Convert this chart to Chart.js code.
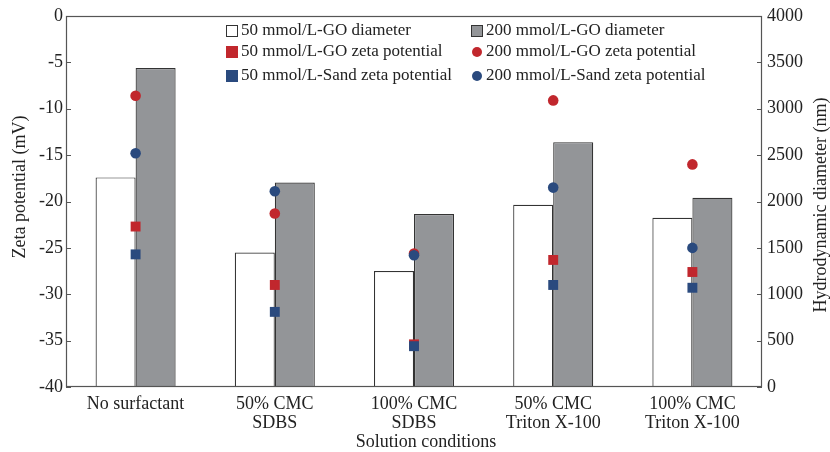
<!DOCTYPE html>
<html>
<head>
<meta charset="utf-8">
<script src="https://cdn.jsdelivr.net/npm/chart.js@4"></script>
<style>
  html, body { margin: 0; padding: 0; background: #fff; }
  #wrap { width: 830px; height: 452px; }
</style>
</head>
<body>
<div id="wrap"><canvas id="chart"></canvas></div>
<script>
// datos
const categories = [['No surfactant'], ['50% CMC', 'SDBS'], ['100% CMC', 'SDBS'], ['50% CMC', 'Triton X-100'], ['100% CMC', 'Triton X-100']];
const diam50 = [2260, 1450, 1250, 1965, 1825];
const diam200 = [3440, 2205, 1865, 2640, 2040];
const zetaGO50 = [-22.7, -29.0, -35.4, -26.3, -27.6];
const zetaSand50 = [-25.7, -31.9, -35.6, -29.0, -29.3];
const zetaGO200 = [-8.6, -21.3, -25.6, -9.1, -16.0];
const zetaSand200 = [-14.8, -18.9, -25.8, -18.5, -25.0];
const zetaTicks = [0, -5, -10, -15, -20, -25, -30, -35, -40];
const diamTicks = [0, 500, 1000, 1500, 2000, 2500, 3000, 3500, 4000];

const RED = '#c1272d';
const BLUE = '#2a4a7e';
const GRAY = '#939598';
const LINE = '#333333';
const AXIS = '#555555';
const TEXT = '#222222';
const FONT = "'Liberation Serif', 'Times New Roman', serif";

// leyenda en dos columnas dibujada a mano
const legendPlugin = {
  id: 'twoColLegend',
  afterDraw(chart) {
    const c = chart.ctx;
    c.save();
    c.font = '17px ' + FONT;
    c.textBaseline = 'middle';
    const rows = [31, 52, 76];
    const col1 = [
      ['50 mmol/L-GO diameter', 'box', '#fff'],
      ['50 mmol/L-GO zeta potential', 'sq', RED],
      ['50 mmol/L-Sand zeta potential', 'sq', BLUE]
    ];
    const col2 = [
      ['200 mmol/L-GO diameter', 'box', GRAY],
      ['200 mmol/L-GO zeta potential', 'dot', RED],
      ['200 mmol/L-Sand zeta potential', 'dot', BLUE]
    ];
    const drawCol = (items, mx, tx) => {
      items.forEach((it, i) => {
        const y = rows[i];
        if (it[1] === 'box') {
          c.fillStyle = it[2];
          c.fillRect(mx - 6, y - 6, 12, 12);
          c.strokeStyle = LINE;
          c.lineWidth = 1;
          c.strokeRect(mx - 5.5, y - 5.5, 11, 11);
        } else if (it[1] === 'sq') {
          c.fillStyle = it[2];
          c.fillRect(mx - 6, y - 6, 12, 12);
        } else {
          c.fillStyle = it[2];
          c.beginPath();
          c.arc(mx, y, 5, 0, Math.PI * 2);
          c.fill();
        }
        c.fillStyle = TEXT;
        c.fillText(it[0], tx, y);
      });
    };
    drawCol(col1, 232, 241);
    drawCol(col2, 477, 486);
    c.restore();
  }
};

// marco, marcas hacia dentro y titulos de ejes
const framePlugin = {
  id: 'frame',
  afterDatasetsDraw(chart) {
    const a = chart.chartArea;
    const c = chart.ctx;
    const y = chart.scales.y;
    const y2 = chart.scales.y2;
    c.save();
    c.strokeStyle = AXIS;
    c.lineWidth = 1.2;
    c.strokeRect(a.left + 0.5, a.top + 0.5, a.right - a.left - 1, a.bottom - a.top - 1);
    c.beginPath();
    zetaTicks.forEach(v => {
      const py = Math.round(y.getPixelForValue(v)) + 0.5;
      c.moveTo(a.left, py);
      c.lineTo(a.left + 5, py);
    });
    diamTicks.forEach(v => {
      const py = Math.round(y2.getPixelForValue(v)) + 0.5;
      c.moveTo(a.right, py);
      c.lineTo(a.right - 5, py);
    });
    c.stroke();

    c.fillStyle = TEXT;
    c.font = '18px ' + FONT;
    c.textAlign = 'center';
    c.textBaseline = 'middle';
    c.fillText('Solution conditions', 426, 442);
    c.translate(20, 187);
    c.rotate(-Math.PI / 2);
    c.fillText('Zeta potential (mV)', 0, 0);
    c.restore();
    c.save();
    c.fillStyle = TEXT;
    c.font = '18px ' + FONT;
    c.textAlign = 'center';
    c.textBaseline = 'middle';
    c.translate(821, 205);
    c.rotate(-Math.PI / 2);
    c.fillText('Hydrodynamic diameter (nm)', 0, 0);
    c.restore();
  }
};

const pointSet = (label, data, color, style, r, order) => ({
  type: 'line',
  label: label,
  data: data,
  yAxisID: 'y',
  showLine: false,
  pointStyle: style,
  pointRadius: r,
  pointHoverRadius: r,
  pointBackgroundColor: color,
  pointBorderColor: color,
  pointBorderWidth: 0,
  order: order
});

const tickFont = { family: FONT, size: 18 };

new Chart(document.getElementById('chart'), {
  type: 'bar',
  data: {
    labels: categories,
    datasets: [
      {
        label: '50 mmol/L-GO diameter',
        data: diam50,
        yAxisID: 'y2',
        backgroundColor: '#fff',
        borderColor: LINE,
        borderWidth: 1.2,
        barPercentage: 1,
        categoryPercentage: 0.575,
        order: 3
      },
      {
        label: '200 mmol/L-GO diameter',
        data: diam200,
        yAxisID: 'y2',
        backgroundColor: GRAY,
        borderColor: LINE,
        borderWidth: 1.2,
        barPercentage: 1,
        categoryPercentage: 0.575,
        order: 3
      },
      pointSet('50 mmol/L-GO zeta potential', zetaGO50, RED, 'rect', 7, 2),
      pointSet('50 mmol/L-Sand zeta potential', zetaSand50, BLUE, 'rect', 7, 1),
      pointSet('200 mmol/L-GO zeta potential', zetaGO200, RED, 'circle', 5.3, 2),
      pointSet('200 mmol/L-Sand zeta potential', zetaSand200, BLUE, 'circle', 5.3, 1)
    ]
  },
  options: {
    responsive: true,
    maintainAspectRatio: false,
    animation: false,
    layout: { padding: { top: 16, right: 0, left: 0, bottom: 0 } },
    plugins: {
      legend: { display: false },
      tooltip: { enabled: false }
    },
    scales: {
      x: {
        grid: { display: false, drawTicks: false },
        border: { display: false },
        ticks: { color: TEXT, font: { family: FONT, size: 18, lineHeight: 1.03 }, padding: 8, maxRotation: 0 },
        afterFit: (s) => { s.height = 65; }
      },
      y: {
        position: 'left',
        min: -40,
        max: 0,
        afterBuildTicks: (s) => { s.ticks = zetaTicks.map(v => ({ value: v })); },
        grid: { display: false, drawTicks: false },
        border: { display: false },
        ticks: { color: TEXT, font: tickFont, padding: 3 },
        afterFit: (s) => { s.width = 66; }
      },
      y2: {
        position: 'right',
        min: 0,
        max: 4000,
        afterBuildTicks: (s) => { s.ticks = diamTicks.map(v => ({ value: v })); },
        grid: { display: false, drawTicks: false },
        border: { display: false },
        ticks: { color: TEXT, font: tickFont, padding: 5, callback: (v) => String(v) },
        afterFit: (s) => { s.width = 68; }
      }
    }
  },
  plugins: [legendPlugin, framePlugin]
});
</script>
</body>
</html>
